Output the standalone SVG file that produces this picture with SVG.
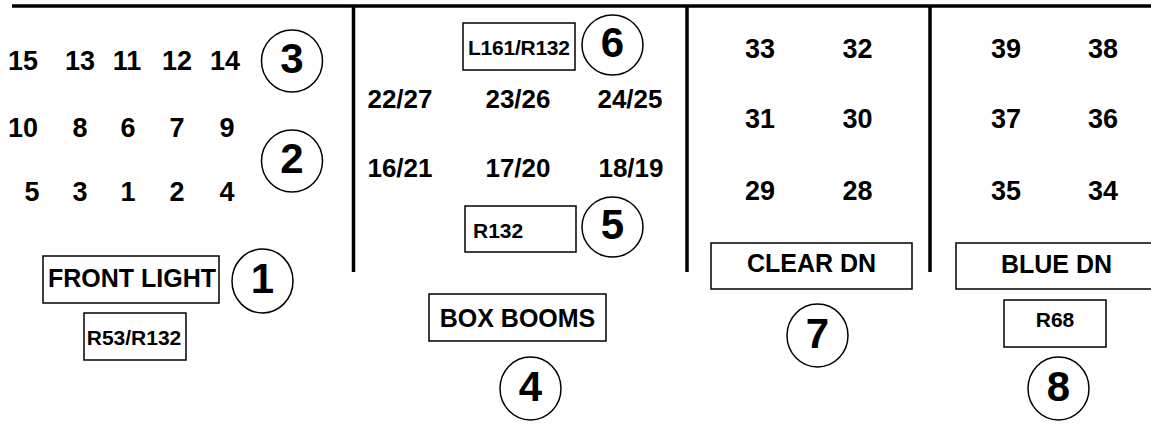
<svg xmlns="http://www.w3.org/2000/svg" width="1151" height="424" viewBox="0 0 1151 424">
<style>
text{font-family:"Liberation Sans",Arial,sans-serif;font-weight:bold;fill:#000}
.n{font-size:27px;text-anchor:middle}
.m{font-size:26px;text-anchor:middle}
.c{font-size:42px;text-anchor:middle}
.lbl{font-size:25px;text-anchor:middle}
.sm{font-size:21px}
.box{fill:#fff;stroke:#000;stroke-width:1.5}
.circ{fill:#fff;stroke:#000;stroke-width:1.5}
.wall{stroke:#000;stroke-width:3.5;fill:none}
</style>
<rect width="1151" height="424" fill="#fff"/>
<g id="walls" class="wall">
<line x1="12" y1="6" x2="1151" y2="6"/>
<line x1="353.5" y1="6" x2="353.5" y2="272"/>
<line x1="687" y1="6" x2="687" y2="272"/>
<line x1="930" y1="6" x2="930" y2="272"/>
</g>
<g id="front-numbers">
<text class="n" x="23" y="70">15</text>
<text class="n" x="80" y="70">13</text>
<text class="n" x="127" y="70">11</text>
<text class="n" x="177" y="70">12</text>
<text class="n" x="225" y="70">14</text>
<text class="n" x="23" y="137">10</text>
<text class="n" x="80" y="137">8</text>
<text class="n" x="128" y="137">6</text>
<text class="n" x="177" y="137">7</text>
<text class="n" x="227" y="137">9</text>
<text class="n" x="32" y="201">5</text>
<text class="n" x="80" y="201">3</text>
<text class="n" x="128" y="201">1</text>
<text class="n" x="177" y="201">2</text>
<text class="n" x="227" y="201">4</text>
</g>
<g id="node-3"><ellipse class="circ" cx="292" cy="61" rx="30.5" ry="31"/><text class="c" x="292" y="73">3</text></g>
<g id="node-2"><ellipse class="circ" cx="292" cy="161" rx="30.5" ry="31"/><text class="c" x="292" y="173">2</text></g>
<g id="front-light"><rect class="box" x="43" y="256" width="176" height="47"/><text class="lbl" x="132" y="287">FRONT LIGHT</text></g>
<g id="node-1"><ellipse class="circ" cx="262.5" cy="281" rx="30.5" ry="32"/><text class="c" x="262.5" y="293">1</text></g>
<g id="gel-1"><rect class="box" x="84" y="313" width="102" height="47"/><text class="sm" x="134" y="345" text-anchor="middle">R53/R132</text></g>
<g id="gel-6"><rect class="box" x="463" y="23" width="112" height="47"/><text class="sm" x="468" y="55" textLength="102">L161/R132</text></g>
<g id="node-6"><ellipse class="circ" cx="612.5" cy="45" rx="30.5" ry="30"/><text class="c" x="612.5" y="57">6</text></g>
<g id="boom-numbers">
<text class="m" x="400" y="108">22/27</text>
<text class="m" x="518" y="108">23/26</text>
<text class="m" x="630" y="108">24/25</text>
<text class="m" x="400" y="177">16/21</text>
<text class="m" x="518" y="177">17/20</text>
<text class="m" x="631" y="177">18/19</text>
</g>
<g id="gel-5"><rect class="box" x="465" y="206" width="111" height="46"/><text class="sm" x="473" y="238">R132</text></g>
<g id="node-5"><ellipse class="circ" cx="612.5" cy="227" rx="30.5" ry="30"/><text class="c" x="612.5" y="239">5</text></g>
<g id="box-booms"><rect class="box" x="429" y="294" width="177" height="47"/><text class="lbl" x="517.5" y="327">BOX BOOMS</text></g>
<g id="node-4"><ellipse class="circ" cx="530.5" cy="388.5" rx="30.5" ry="31.5"/><text class="c" x="530.5" y="400.5">4</text></g>
<g id="clear-numbers">
<text class="n" x="760" y="58">33</text>
<text class="n" x="857.5" y="58">32</text>
<text class="n" x="760" y="128">31</text>
<text class="n" x="857.5" y="128">30</text>
<text class="n" x="760" y="200">29</text>
<text class="n" x="857.5" y="200">28</text>
</g>
<g id="clear-dn"><rect class="box" x="711" y="243" width="201" height="46"/><text class="lbl" x="811.5" y="272">CLEAR DN</text></g>
<g id="node-7"><ellipse class="circ" cx="817.5" cy="335.5" rx="30.5" ry="31.5"/><text class="c" x="817.5" y="347.5">7</text></g>
<g id="blue-numbers">
<text class="n" x="1006" y="58">39</text>
<text class="n" x="1103" y="58">38</text>
<text class="n" x="1006" y="128">37</text>
<text class="n" x="1103" y="128">36</text>
<text class="n" x="1006" y="200">35</text>
<text class="n" x="1103" y="200">34</text>
</g>
<g id="blue-dn"><rect class="box" x="956" y="243" width="210" height="46"/><text class="lbl" x="1056.5" y="273">BLUE DN</text></g>
<g id="gel-8"><rect class="box" x="1004" y="300" width="102" height="47"/><text class="sm" x="1055" y="327" text-anchor="middle">R68</text></g>
<g id="node-8"><ellipse class="circ" cx="1058.5" cy="388.5" rx="30.5" ry="31.5"/><text class="c" x="1058.5" y="400.5">8</text></g>
<g id="connectors"></g>
</svg>
